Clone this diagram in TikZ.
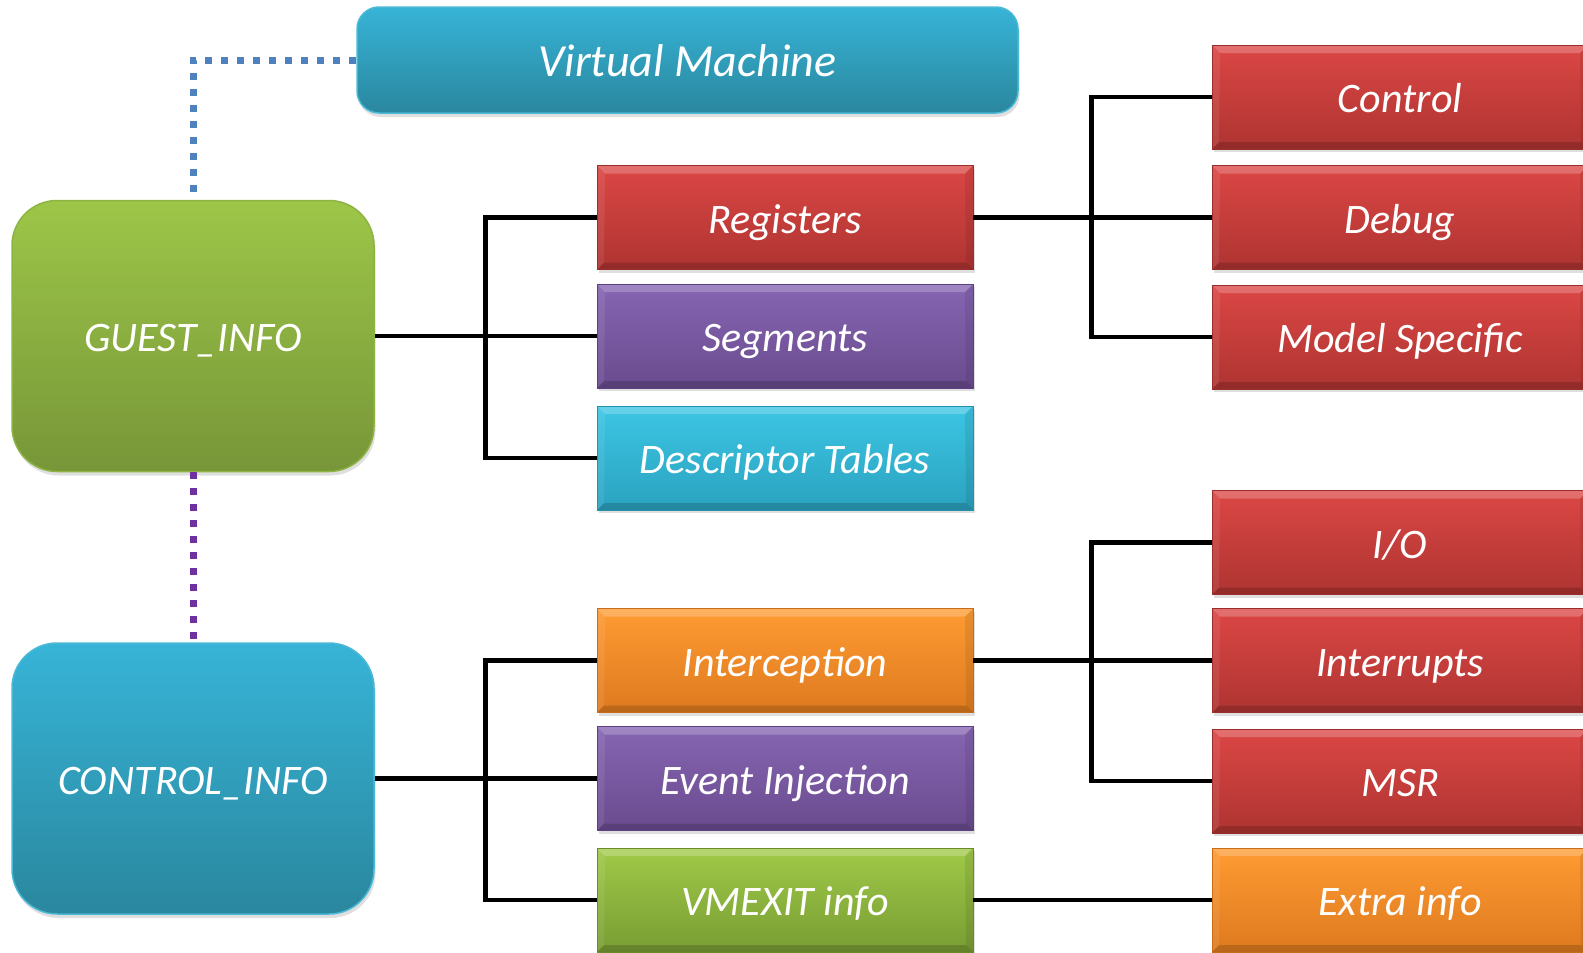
\documentclass[tikz,border=0pt]{standalone}
\usepackage{fontspec}
\setmainfont{Carlito}
\usetikzlibrary{shadows}
\definecolor{redT}{HTML}{DB4745}
\definecolor{redB}{HTML}{AE3431}
\definecolor{redD}{HTML}{9A2E2C}
\definecolor{purT}{HTML}{8665B2}
\definecolor{purB}{HTML}{6A4B8E}
\definecolor{purD}{HTML}{5C4080}
\definecolor{cyaT}{HTML}{3CC6E4}
\definecolor{cyaB}{HTML}{2AA2BF}
\definecolor{cyaD}{HTML}{2790AA}
\definecolor{oraT}{HTML}{FE9B32}
\definecolor{oraB}{HTML}{DE7A1F}
\definecolor{oraD}{HTML}{C86C1A}
\definecolor{grnT}{HTML}{A0CA48}
\definecolor{grnB}{HTML}{789C33}
\definecolor{grnD}{HTML}{6A8A2C}
\definecolor{bigGT}{HTML}{9DC648}
\definecolor{bigGB}{HTML}{779638}
\definecolor{bigGD}{HTML}{8CB443}
\definecolor{bigCT}{HTML}{37B4D7}
\definecolor{bigCB}{HTML}{2A879E}
\definecolor{bigCD}{HTML}{4BB8D6}
\definecolor{dotblue}{HTML}{4F81BD}
\definecolor{dotpurple}{HTML}{7030A0}
\tikzset{
  lbl/.style={text=white,font=\fontsize{42}{50}\selectfont\itshape,inner sep=0pt,text height=31pt,text depth=0pt},
  bevel/.style={path picture={
    \fill[white,opacity=.22] (path picture bounding box.north west) -- (path picture bounding box.north east)
      -- ([shift={(-8pt,-8pt)}]path picture bounding box.north east) -- ([shift={(8pt,-8pt)}]path picture bounding box.north west) -- cycle;
    \fill[black,opacity=.16] (path picture bounding box.south west) -- (path picture bounding box.south east)
      -- ([shift={(-7pt,7pt)}]path picture bounding box.south east) -- ([shift={(7pt,7pt)}]path picture bounding box.south west) -- cycle;
    \fill[white,opacity=.08] (path picture bounding box.north west) -- ([shift={(8pt,-8pt)}]path picture bounding box.north west)
      -- ([shift={(7pt,7pt)}]path picture bounding box.south west) -- (path picture bounding box.south west) -- cycle;
    \fill[black,opacity=.08] (path picture bounding box.north east) -- ([shift={(-8pt,-8pt)}]path picture bounding box.north east)
      -- ([shift={(-7pt,7pt)}]path picture bounding box.south east) -- (path picture bounding box.south east) -- cycle;
  }},
  item/.style={lbl,minimum width=376pt,minimum height=104pt,line width=0.8pt,bevel,
    drop shadow={opacity=0.25,shadow xshift=1.5pt,shadow yshift=-3pt}},
  redbox/.style={item,top color=redT,bottom color=redB,draw=redD},
  purbox/.style={item,top color=purT,bottom color=purB,draw=purD},
  cyabox/.style={item,top color=cyaT,bottom color=cyaB,draw=cyaD},
  orabox/.style={item,top color=oraT,bottom color=oraB,draw=oraD},
  grnbox/.style={item,top color=grnT,bottom color=grnB,draw=grnD},
  bigbox/.style={lbl,rounded corners=45pt,minimum width=362pt,minimum height=271pt,line width=1.5pt,
    drop shadow={opacity=0.25,shadow xshift=1.5pt,shadow yshift=-4pt}},
  conn/.style={line width=4.5pt,black},
  dotconn/.style={line width=7pt,dash pattern=on 7pt off 9pt},
}
\begin{document}
\begin{tikzpicture}[x=1pt,y=-1pt]
\useasboundingbox (0,0) rectangle (1583,953);
\clip (0,0) rectangle (1583,953);
% big boxes
\node[lbl,rounded corners=22pt,minimum width=661pt,minimum height=106pt,top color=bigCT,bottom color=bigCB,draw=bigCD,line width=1.5pt,
  font=\fontsize{46}{54}\selectfont\itshape,text height=33pt,drop shadow={opacity=0.25,shadow xshift=1.5pt,shadow yshift=-4pt}] (vm) at (687.5,60) {Virtual Machine};
\node[bigbox,top color=bigGT,bottom color=bigGB,draw=bigGD] (guest) at (193,336) {GUEST\_INFO};
\node[bigbox,top color=bigCT,bottom color=bigCB,draw=bigCD] (control) at (193,778.5) {CONTROL\_INFO};
% middle column
\node[redbox] (reg) at (785,217.5) {Registers};
\node[purbox] (seg) at (785,336) {Segments};
\node[cyabox] (desc) at (785,458) {Descriptor Tables};
\node[orabox] (intc) at (785,660.5) {Interception};
\node[purbox] (event) at (785,778.5) {Event Injection};
\node[grnbox] (vmexit) at (785,900) {VMEXIT info};
% right column
\node[redbox] (ctl) at (1400,97) {Control};
\node[redbox] (dbg) at (1400,217.5) {Debug};
\node[redbox] (msr1) at (1400,337) {Model Specific};
\node[redbox] (io) at (1400,542.5) {I/O};
\node[redbox] (intr) at (1400,660.5) {Interrupts};
\node[redbox] (msr) at (1400,781) {MSR};
\node[orabox] (extra) at (1400,900) {Extra info};
% dotted connectors
\draw[dotconn,dotblue] (vm.west) -| (guest.north);
\draw[dotconn,dotpurple] (guest.south) -- (control.north);
% tree connectors
\draw[conn] (guest.east) -- (seg.west);
\draw[conn] (reg.west) -- ++(-111,0) |- (desc.west);
\draw[conn] (reg.east) -- (dbg.west);
\draw[conn] (ctl.west) -- ++(-120,0) |- (msr1.west);
\draw[conn] (control.east) -- (event.west);
\draw[conn] (intc.west) -- ++(-111,0) |- (vmexit.west);
\draw[conn] (intc.east) -- (intr.west);
\draw[conn] (io.west) -- ++(-120,0) |- (msr.west);
\draw[conn] (vmexit.east) -- (extra.west);
\end{tikzpicture}
\end{document}
